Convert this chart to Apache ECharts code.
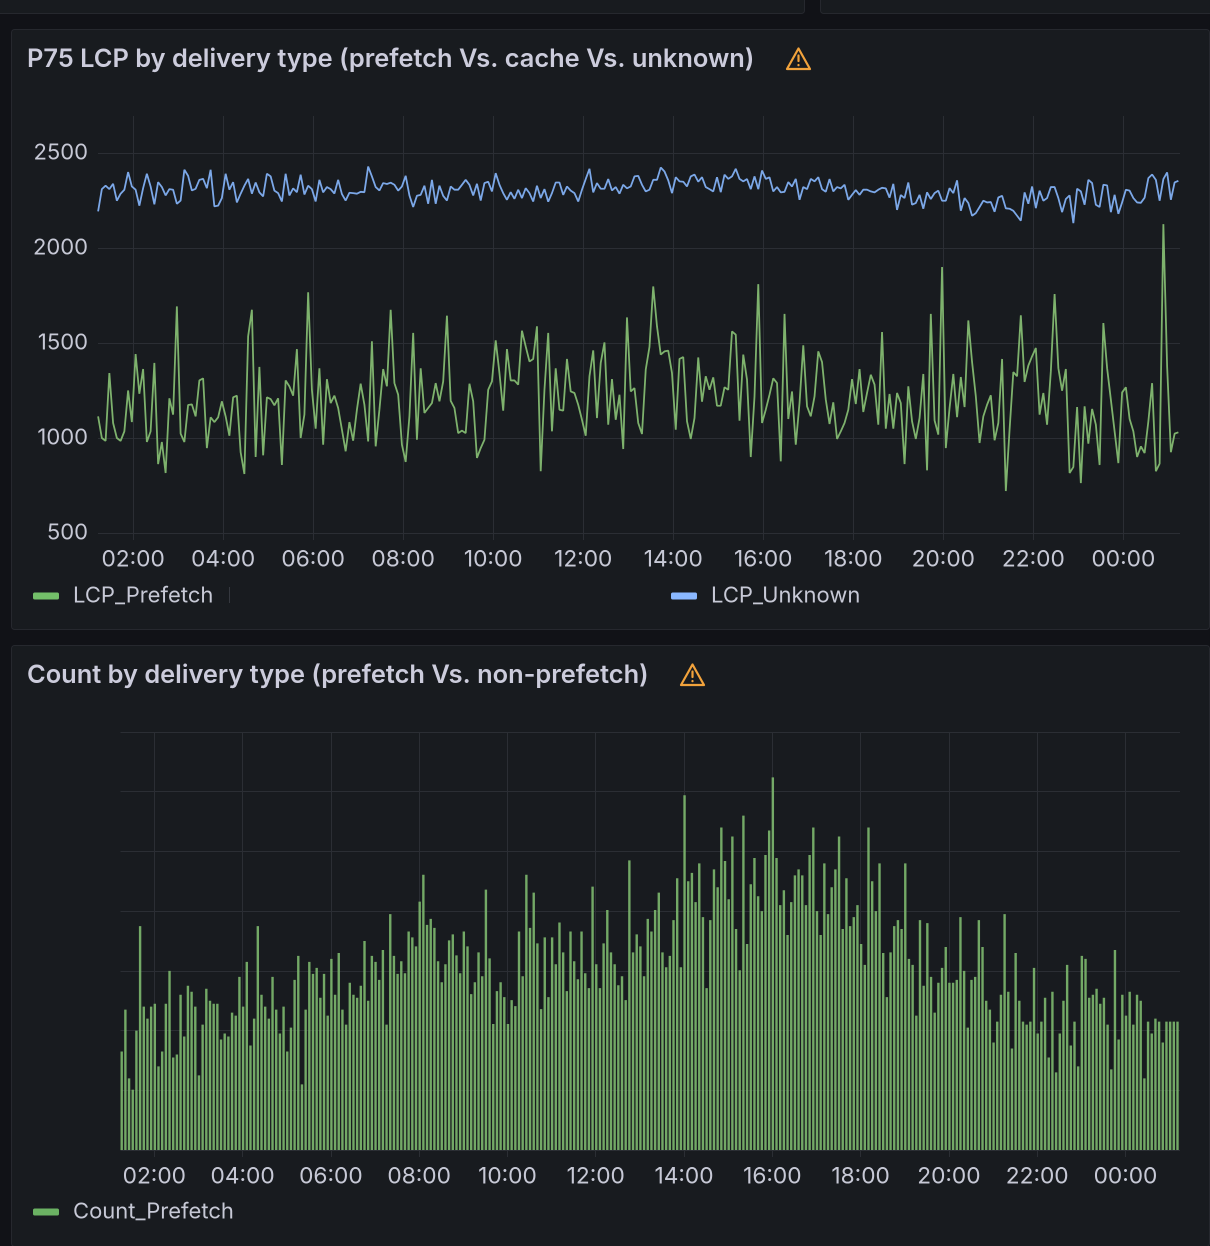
<!DOCTYPE html>
<html>
<head>
<meta charset="utf-8">
<script src="https://cdn.jsdelivr.net/npm/echarts@6/dist/echarts.min.js"></script>
<style>
  html, body { margin: 0; padding: 0; background: #111217; }
  #main { width: 1210px; height: 1246px; }
</style>
</head>
<body>
<div id="main"></div>
<script>
// tick labels, minutes since midnight of the first day
var tickMinutes = [120, 240, 360, 480, 600, 720, 840, 960, 1080, 1200, 1320, 1440];
var tickLabels = ['02:00', '04:00', '06:00', '08:00', '10:00', '12:00', '14:00', '16:00', '18:00', '20:00', '22:00', '00:00'];
var lcpTicks = [500, 1000, 1500, 2000, 2500];

// 5 minute samples
var lcpPrefetch = [
  1114,1000,985,1342,1079,1000,985,1035,1250,1084,1442,1233,
  1363,979,1035,1395,863,979,816,1209,1123,1693,1023,979,
  1174,1177,1114,1303,1314,947,1109,1084,1109,1193,1114,1012,
  1214,1223,925,811,1535,1675,900,1374,909,1214,1205,1172,
  1209,858,1303,1272,1223,1468,1000,1123,1767,1254,1049,1367,
  965,1310,1184,1223,1158,1044,930,1084,986,1149,1286,1175,
  982,1509,956,1149,1363,1272,1675,1289,1228,965,874,1114,
  1553,991,1367,1132,1158,1184,1289,1193,1298,1644,1196,1158,
  1026,1039,1026,1286,1193,895,947,991,1254,1298,1514,1342,
  1144,1468,1303,1303,1281,1565,1482,1403,1416,1588,825,1254,
  1553,1035,1367,1149,1144,1416,1245,1237,1175,1096,1012,1325,
  1461,1105,1395,1503,1070,1310,1096,1228,942,1635,1245,1263,
  1079,1021,1360,1480,
  1798,1588,1439,1456,1460,1342,1044,1416,1426,1088,995,1105,
  1424,1191,1325,1254,1319,1170,1170,1267,1254,1561,1544,1091,
  1439,1307,900,1219,1810,1079,1149,1228,1314,1289,877,1653,
  1100,1245,965,1184,1488,1167,1114,1219,1456,1400,1202,1074,
  1188,995,1035,1079,1149,1310,1179,1363,1137,1237,1333,1281,
  1070,1558,1049,1232,1049,1237,1184,863,1272,1088,995,1105,
  1337,830,1653,1093,1018,1900,947,1158,1337,1110,1321,1163,
  1619,1400,1219,974,1114,1175,1225,988,1079,1416,721,1044,
  1347,1325,1646,1295,1381,1430,1474,1123,1237,1070,1351,1758,
  1368,1249,1363,816,847,1163,763,1167,970,1153,1070,858,
  1605,1368,1202,1035,868,1240,1267,1100,1035,900,956,921,
  1088,1289,825,865,2126,1377,925,1023,1030
];
var lcpUnknown = [
  2193,2310,2328,2310,2338,2249,2286,2307,2400,2324,2307,2223,
  2315,2391,2324,2230,2347,2321,2277,2310,2307,2233,2250,2412,
  2380,2303,2312,2359,2364,2315,2412,2219,2223,2263,2391,2307,
  2347,2240,2286,2328,2364,2286,2345,2293,2272,2391,2377,2302,
  2289,2245,2391,2277,2314,2294,2386,2282,2328,2310,2245,2359,
  2293,2321,2310,2287,2359,2284,2250,2291,2289,2286,2296,2294,
  2429,2377,2321,2303,2342,2337,2344,2333,2302,2324,2380,2277,
  2216,2275,2280,2328,2233,2359,2233,2328,2275,2250,2324,2307,
  2307,2333,2359,2333,2277,2338,2250,2342,2349,2298,2394,2333,
  2289,2254,2294,2259,2307,2263,2315,2289,2245,2328,2263,2310,
  2244,2289,2345,2345,2280,2324,2302,2289,2245,2307,2363,2417,
  2293,2342,2312,2312,2363,2303,2321,2286,2333,2314,2324,2377,
  2380,2333,2298,2307,
  2359,2359,2424,2403,2356,2289,2373,2351,2349,2324,2377,2387,
  2349,2373,2321,2310,2298,2373,2294,2386,2364,2377,2417,2364,
  2351,2363,2310,2377,2310,2408,2364,2372,2298,2321,2293,2296,
  2347,2324,2364,2254,2321,2310,2364,2351,2373,2310,2296,2363,
  2298,2321,2314,2333,2254,2280,2305,2280,2307,2307,2298,2293,
  2307,2317,2314,2265,2338,2201,2279,2263,2345,2228,2237,2280,
  2207,2293,2258,2289,2302,2249,2249,2315,2289,2356,2196,2263,
  2237,2170,2184,2216,2249,2240,2242,2191,2266,2275,2209,2207,
  2196,2170,2144,2293,2233,2324,2210,2302,2249,2263,2321,2321,
  2263,2189,2258,2277,2131,2312,2298,2228,2359,2342,2228,2216,
  2333,2330,2189,2280,2180,2240,2307,2302,2263,2240,2238,2265,
  2368,2387,2359,2249,2363,2398,2254,2345,2354
];
// the count panel has no y labels, so 100 here is one grid step
var countPrefetch = [
  165,235,120,101,200,375,240,220,240,245,140,165,
  245,300,155,160,260,190,275,265,240,125,210,270,
  250,245,245,185,195,190,230,225,290,240,315,175,
  220,375,260,240,220,290,235,195,240,165,205,285,
  325,110,235,315,295,305,255,295,225,320,260,330,
  235,210,280,260,255,275,350,250,325,315,285,335,
  210,395,325,295,316,296,366,356,341,416,461,377,
  387,372,316,281,311,351,361,326,296,366,341,261,
  281,331,291,436,321,211,266,281,256,211,251,241,
  366,291,461,372,431,346,236,356,256,356,311,381,
  331,266,366,316,286,366,296,271,441,311,271,346,
  402,331,311,276,291,251,485,331,361,341,291,387,
  366,402,431,
  331,306,325,385,455,306,594,450,464,415,480,390,
  271,385,470,440,540,484,420,525,370,301,560,345,
  445,489,425,400,494,535,624,489,410,435,360,415,
  460,470,460,410,494,540,400,360,480,395,440,470,
  525,370,455,375,390,410,345,310,540,450,400,480,
  330,256,331,375,385,370,480,320,310,225,385,275,
  380,290,230,280,305,340,280,280,285,390,300,205,
  285,290,385,340,250,235,180,215,260,395,265,170,
  330,250,215,210,215,305,195,215,255,155,265,130,
  195,250,310,175,215,140,325,320,255,260,270,245,
  255,210,135,335,185,260,225,265,210,260,250,120,
  215,195,220,215,180,215,215,215,215
];

var FONT = 'Inter';
var GRID_COLOR = '#2b2e34';
var TEXT_COLOR = '#c7c9d6';
var GREEN = '#73BF69';
var BLUE = '#8AB8FF';
var SAMPLE_STEP = 5;

function toPairs(values, start) {
  return values.map(function (v, i) { return [start + i * SAMPLE_STEP, v]; });
}

function timeAxis(gridIndex, min, max) {
  return {
    type: 'value',
    gridIndex: gridIndex,
    min: min,
    max: max,
    axisLine: { show: false },
    axisTick: { show: true, length: 7, customValues: tickMinutes, lineStyle: { color: GRID_COLOR } },
    splitLine: { show: true, lineStyle: { color: GRID_COLOR, width: 1 } },
    axisLabel: {
      customValues: tickMinutes,
      margin: 15,
      hideOverlap: false,
      color: TEXT_COLOR,
      fontFamily: FONT,
      fontSize: 22.7,
      formatter: function (v) { return tickLabels[tickMinutes.indexOf(v)]; }
    }
  };
}

function panel(x, y, w, h) {
  return {
    type: 'rect',
    z: -10,
    shape: { x: x + 0.5, y: y + 0.5, width: w, height: h, r: 3 },
    style: { fill: '#181B1F', stroke: '#26282e', lineWidth: 1 }
  };
}

function warningIcon(x, y) {
  var stroke = { stroke: '#F2A33C', lineWidth: 2.2, fill: 'none', lineJoin: 'round', lineCap: 'round' };
  return {
    type: 'group',
    x: x,
    y: y,
    children: [
      { type: 'polygon', shape: { points: [[12.5, 1.5], [24, 22], [1, 22]] }, style: stroke },
      { type: 'line', shape: { x1: 12.5, y1: 8.5, x2: 12.5, y2: 14 }, style: stroke },
      { type: 'line', shape: { x1: 12.5, y1: 18, x2: 12.5, y2: 18.2 }, style: stroke }
    ]
  };
}

function legendAt(name, left, top, color) {
  return {
    data: [name],
    left: left,
    top: top,
    icon: 'roundRect',
    itemWidth: 26,
    itemHeight: 7,
    itemStyle: { color: color },
    selectedMode: false,
    padding: 0,
    textStyle: { color: TEXT_COLOR, fontFamily: FONT, fontSize: 22, padding: [0, 0, 0, 9] }
  };
}

var option = {
  backgroundColor: '#111217',
  animation: false,
  title: [
    {
      text: 'P75 LCP by delivery type (prefetch Vs. cache Vs. unknown)',
      left: 22, top: 42,
      textStyle: { color: '#ccccdc', fontFamily: FONT, fontSize: 25.4, fontWeight: 600 }
    },
    {
      text: 'Count by delivery type (prefetch Vs. non-prefetch)',
      left: 22, top: 658,
      textStyle: { color: '#ccccdc', fontFamily: FONT, fontSize: 25.4, fontWeight: 600 }
    }
  ],
  legend: [
    legendAt('LCP_Prefetch', 33, 585, GREEN),
    legendAt('LCP_Unknown', 671, 585, BLUE),
    legendAt('Count_Prefetch', 33, 1201, GREEN)
  ],
  graphic: [
    panel(-40, -40, 844, 53),
    panel(820, -40, 430, 53),
    panel(11, 29, 1198, 600),
    panel(11, 645, 1198, 601),
    warningIcon(786, 47),
    warningIcon(680, 663),
    {
      type: 'line',
      shape: { x1: 229.5, y1: 587, x2: 229.5, y2: 603 },
      style: { stroke: '#35383f', lineWidth: 1 }
    }
  ],
  grid: [
    { left: 98, top: 116, width: 1082, height: 417 },
    { left: 120.5, top: 732, width: 1059.5, height: 418 }
  ],
  xAxis: [
    timeAxis(0, 73.2, 1515.5),
    timeAxis(1, 74.06, 1514.1)
  ],
  yAxis: [
    {
      type: 'value',
      gridIndex: 0,
      min: 500,
      max: 2695,
      axisLine: { show: false },
      axisTick: { show: false, customValues: lcpTicks },
      splitLine: { show: true, lineStyle: { color: GRID_COLOR, width: 1 } },
      axisLabel: {
        customValues: lcpTicks,
        margin: 10,
        color: TEXT_COLOR,
        fontFamily: FONT,
        fontSize: 22,
        formatter: function (v) { return String(v); }
      }
    },
    {
      type: 'value',
      gridIndex: 1,
      min: 0,
      max: 700,
      interval: 100,
      axisLine: { show: false },
      axisTick: { show: false },
      splitLine: { show: true, lineStyle: { color: GRID_COLOR, width: 1 } },
      axisLabel: { show: false }
    }
  ],
  series: [
    {
      name: 'LCP_Prefetch',
      type: 'line',
      xAxisIndex: 0,
      yAxisIndex: 0,
      showSymbol: false,
      color: '#7EB26D',
      lineStyle: { width: 1.8 },
      data: toPairs(lcpPrefetch, 73.33)
    },
    {
      name: 'LCP_Unknown',
      type: 'line',
      xAxisIndex: 0,
      yAxisIndex: 0,
      showSymbol: false,
      color: '#7CA8E8',
      lineStyle: { width: 1.8 },
      data: toPairs(lcpUnknown, 73.33)
    },
    {
      name: 'Count_Prefetch',
      type: 'bar',
      xAxisIndex: 1,
      yAxisIndex: 1,
      barWidth: 2.4,
      color: '#7CB56C',
      itemStyle: { opacity: 0.92 },
      data: toPairs(countPrefetch, 75.7)
    }
  ]
};

// rendered at twice the page size so the thin bars keep an even width
var myChart = echarts.init(document.getElementById('main'), null, { devicePixelRatio: 2 });
myChart.setOption(option);
</script>
</body>
</html>
